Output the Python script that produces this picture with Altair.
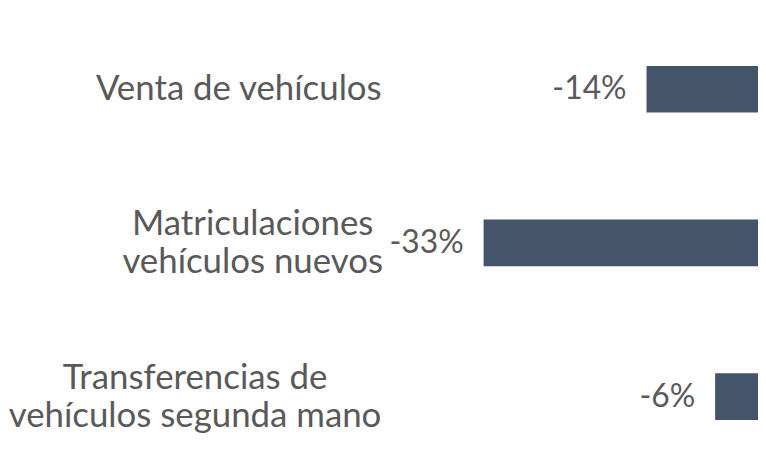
import altair as alt
import pandas as pd

categories = ["Venta de vehículos", "Matriculaciones\nvehículos nuevos", "Transferencias de\nvehículos segunda mano"]
values = [-14, -33, -6]
order = [0, 1, 2]

df = pd.DataFrame({"cat": categories, "value": values, "i": order})
df["label"] = df["value"].astype(str) + "%"

FONT = "Lato"
TEXT_COLOR = "#595959"
BAR_COLOR = "#44546A"
LINE_H = 38

y = alt.Y("cat:N", sort=categories, axis=None,
          scale=alt.Scale(paddingInner=0.696, paddingOuter=0.32, align=0.576))

x_scale = alt.Scale(domain=[-88, -1], nice=False)

base = alt.Chart(df)

bars = base.mark_bar(color=BAR_COLOR, clip=True).encode(
    x=alt.X("value:Q", axis=None, scale=x_scale),
    y=y,
)

vals = base.mark_text(align="right", baseline="middle", dx=-20, font=FONT,
                      fontSize=32, color=TEXT_COLOR).encode(
    x=alt.X("value:Q"),
    y=y,
    text="label:N",
)

cats = base.mark_text(align="center", baseline="middle", font=FONT, fontSize=35,
                      color=TEXT_COLOR, lineBreak="\n", lineHeight=LINE_H,
                      dx=alt.ExprRef("[228, 242, 184][datum.i]"),
                      dy=alt.ExprRef("-(length(split(datum.cat, '\\n')) - 1) * %d / 2" % LINE_H)).encode(
    x=alt.value(0),
    y=y,
    text="cat:N",
)

chart = alt.layer(bars, vals, cats).properties(
    width=750, height=455, padding=0
).configure_view(stroke=None)

chart.save("out.html", embed_options={"renderer": "svg", "actions": False})
